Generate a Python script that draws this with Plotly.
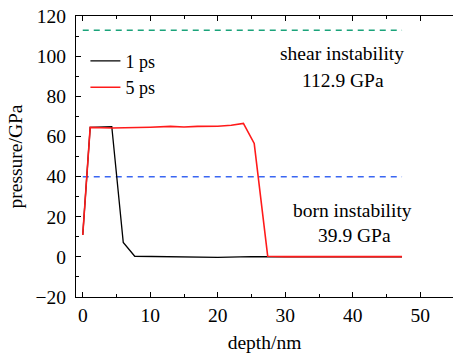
import plotly.graph_objects as go

# Data
depth_1ps = [0, 1.1, 4.3, 6.0, 7.7, 10, 15, 20, 25, 30, 35, 40, 45, 47.3]
pressure_1ps = [10.9, 64.5, 64.8, 7.2, 0.3, 0.2, 0.1, -0.3, 0.1, 0.0, 0.0, 0.0, 0.0, 0.0]

depth_5ps = [0, 1.1, 4.3, 7, 10, 13, 15, 17, 20, 22, 23.8, 25.4, 27.4, 30, 35, 40, 45, 47.3]
pressure_5ps = [10.9, 64.5, 64.2, 64.3, 64.6, 65.0, 64.7, 65.0, 65.1, 65.6, 66.5, 56.5, 0.3, 0.1, 0.2, 0.1, 0.1, 0.1]

ref_depth = [0, 47.3]
shear_level = [112.9, 112.9]
born_level = [39.9, 39.9]

FONT = "Liberation Serif"
FS = 19.5

fig = go.Figure()
fig.add_trace(go.Scatter(x=ref_depth, y=shear_level, mode="lines", showlegend=False,
                         line=dict(color="#1aa37a", width=1.3, dash="6px,5px")))
fig.add_trace(go.Scatter(x=ref_depth, y=born_level, mode="lines", showlegend=False,
                         line=dict(color="#3a66f2", width=1.3, dash="6px,5px")))
fig.add_trace(go.Scatter(x=depth_1ps, y=pressure_1ps, mode="lines", name="1 ps",
                         line=dict(color="black", width=1.3)))
fig.add_trace(go.Scatter(x=depth_5ps, y=pressure_5ps, mode="lines", name="5 ps",
                         line=dict(color="#ff1a1a", width=1.6)))

ann = [
    ("shear instability", 38.45, 101.5),
    ("112.9 GPa", 38.6, 88.0),
    ("born instability", 39.9, 22.9),
    ("39.9 GPa", 40.2, 10.5),
]
for t, x, y in ann:
    fig.add_annotation(x=x, y=y, text=t, showarrow=False, xref="x", yref="y",
                       font=dict(family=FONT, size=FS, color="black"))

axis_common = dict(showgrid=False, zeroline=False, showline=True, linecolor="black",
                   linewidth=1.3, ticks="inside", ticklen=5, tickwidth=1, tickcolor="black",
                   tickfont=dict(family=FONT, size=FS, color="black"),
                   minor=dict(ticks="inside", ticklen=3, tickwidth=1, tickcolor="black"))

fig.update_layout(
    width=453, height=356,
    margin=dict(l=76, r=0, t=16, b=59),
    paper_bgcolor="white", plot_bgcolor="white",
    xaxis=dict(range=[-1, 54.85], dtick=10, tick0=0, mirror="allticks",
               title=dict(text="depth/nm", font=dict(family=FONT, size=FS, color="black"), standoff=10),
               **axis_common),
    yaxis=dict(range=[-20, 120], dtick=20, tick0=0, mirror=False, ticklabelstandoff=5,
               title=dict(text="pressure/GPa", font=dict(family=FONT, size=FS, color="black"), standoff=7),
               **axis_common),
    legend=dict(x=0.025, y=0.905, xanchor="left", yanchor="top", bgcolor="rgba(0,0,0,0)",
                tracegroupgap=0,
                font=dict(family=FONT, size=18, color="black")),
)
fig.update_xaxes(minor_dtick=5)
fig.update_yaxes(minor_dtick=10)

fig.write_html("out.html")
